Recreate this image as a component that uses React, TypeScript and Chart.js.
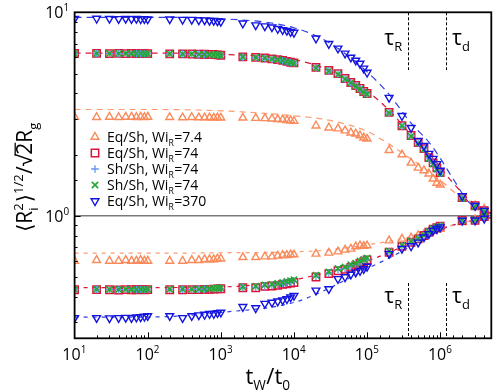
import React, { useEffect, useRef } from 'react';
import { Chart, registerables } from 'chart.js';
import { drawPoint } from 'chart.js/helpers';

Chart.register(...registerables);

// waiting times t_W/t_0 at which the data were sampled
const TW = [
  10, 20, 30, 40, 50, 60, 70, 80, 90, 100,
  200, 300, 400, 500, 600, 700, 800, 900, 1000,
  2000, 3000, 4000, 5000, 6000, 7000, 8000, 9000, 10000,
  2e4, 3e4, 4e4, 5e4, 6e4, 7e4, 8e4, 9e4, 1e5,
  2e5, 3e5, 4e5, 5e5, 6e5, 7e5, 8e5, 9e5, 1e6,
  2e6, 3e6, 4e6,
];

// Eq/Sh, Wi_R = 7.4
const EQ7_UP = [
  3.06, 3.05, 3.06, 3.05, 3.06, 3.06, 3.05, 3.06, 3.05, 3.06,
  3.05, 3.04, 3.05, 3.04, 3.04, 3.04, 3.03, 3.04, 3.03,
  3.03, 3.02, 3.01, 3.0, 2.98, 2.97, 2.95, 2.94, 2.92,
  2.77, 2.71, 2.68, 2.62, 2.56, 2.53, 2.48, 2.42, 2.39,
  2.1, 2.0, 1.82, 1.72, 1.67, 1.61, 1.52, 1.45, 1.42,
  1.21, 1.12, 1.08,
];
const EQ7_LO = [
  0.6, 0.605, 0.6, 0.6, 0.605, 0.6, 0.6, 0.605, 0.6, 0.6,
  0.6, 0.6, 0.605, 0.605, 0.61, 0.61, 0.61, 0.615, 0.615,
  0.625, 0.625, 0.63, 0.63, 0.635, 0.64, 0.64, 0.645, 0.645,
  0.65, 0.657, 0.667, 0.68, 0.688, 0.706, 0.714, 0.71, 0.714,
  0.755, 0.77, 0.78, 0.8, 0.81, 0.83, 0.84, 0.85, 0.86,
  0.93, 0.96, 0.98,
];

// Eq/Sh, Wi_R = 74
const EQ74_UP = [
  6.28, 6.28, 6.27, 6.28, 6.27, 6.28, 6.27, 6.27, 6.26, 6.27,
  6.25, 6.25, 6.24, 6.22, 6.22, 6.2, 6.2, 6.18, 6.15,
  6.04, 6.0, 5.96, 5.9, 5.85, 5.8, 5.74, 5.68, 5.64,
  5.36, 5.18, 5.0, 4.73, 4.52, 4.37, 4.22, 4.08, 3.99,
  3.22, 2.77, 2.48, 2.29, 2.14, 1.93, 1.82, 1.72, 1.63,
  1.23, 1.12, 1.06,
];
const EQ74_LO = [
  0.433, 0.434, 0.433, 0.432, 0.434, 0.433, 0.433, 0.434, 0.433, 0.434,
  0.433, 0.433, 0.434, 0.434, 0.435, 0.435, 0.436, 0.437, 0.438,
  0.443, 0.443, 0.45, 0.452, 0.455, 0.46, 0.463, 0.467, 0.47,
  0.5, 0.52, 0.537, 0.545, 0.558, 0.569, 0.584, 0.595, 0.607,
  0.662, 0.708, 0.741, 0.77, 0.8, 0.83, 0.86, 0.875, 0.89,
  0.948, 0.95, 0.99,
];

// Sh/Sh, Wi_R = 74 (plus)
const SH74P_UP = [
  6.27, 6.27, 6.26, 6.27, 6.26, 6.27, 6.26, 6.26, 6.25, 6.26,
  6.24, 6.24, 6.23, 6.21, 6.21, 6.19, 6.19, 6.17, 6.14,
  6.02, 5.98, 5.94, 5.88, 5.83, 5.78, 5.72, 5.66, 5.62,
  5.34, 5.16, 4.98, 4.71, 4.5, 4.35, 4.2, 4.06, 3.97,
  3.2, 2.75, 2.47, 2.28, 2.13, 1.92, 1.81, 1.71, 1.62,
  1.22, 1.12, 1.06,
];
const SH74P_LO = [
  0.434, 0.434, 0.434, 0.433, 0.434, 0.434, 0.433, 0.434, 0.434, 0.434,
  0.434, 0.434, 0.435, 0.435, 0.436, 0.437, 0.438, 0.439, 0.44,
  0.445, 0.446, 0.453, 0.456, 0.46, 0.465, 0.468, 0.472, 0.476,
  0.505, 0.525, 0.543, 0.552, 0.565, 0.576, 0.59, 0.602, 0.613,
  0.665, 0.71, 0.745, 0.772, 0.8, 0.83, 0.858, 0.875, 0.89,
  0.945, 0.955, 0.99,
];

// Sh/Sh, Wi_R = 74 (cross)
const SH74X_UP = [
  6.27, 6.28, 6.27, 6.27, 6.28, 6.27, 6.26, 6.27, 6.26, 6.26,
  6.25, 6.24, 6.24, 6.22, 6.21, 6.2, 6.19, 6.18, 6.15,
  6.03, 5.99, 5.95, 5.89, 5.84, 5.79, 5.73, 5.67, 5.62,
  5.33, 5.15, 4.96, 4.7, 4.5, 4.33, 4.19, 4.05, 3.96,
  3.2, 2.76, 2.46, 2.27, 2.12, 1.91, 1.8, 1.7, 1.62,
  1.22, 1.11, 1.05,
];
const SH74X_LO = [
  0.434, 0.435, 0.434, 0.434, 0.435, 0.434, 0.434, 0.435, 0.434, 0.435,
  0.435, 0.435, 0.436, 0.436, 0.437, 0.438, 0.44, 0.441, 0.442,
  0.447, 0.45, 0.457, 0.46, 0.465, 0.47, 0.475, 0.48, 0.485,
  0.51, 0.53, 0.55, 0.56, 0.575, 0.585, 0.6, 0.61, 0.62,
  0.67, 0.715, 0.75, 0.775, 0.805, 0.835, 0.862, 0.878, 0.892,
  0.95, 0.955, 0.99,
];

// Eq/Sh, Wi_R = 370
const EQ370_UP = [
  9.3, 9.32, 9.3, 9.28, 9.3, 9.28, 9.3, 9.27, 9.28, 9.25,
  9.25, 9.2, 9.2, 9.15, 9.15, 9.1, 9.1, 9.05, 9.0,
  8.83, 8.65, 8.55, 8.45, 8.3, 8.2, 8.12, 8.02, 7.95,
  7.45, 7.0, 6.65, 6.28, 6.0, 5.8, 5.6, 5.3, 5.06,
  3.81, 3.1, 2.71, 2.34, 2.21, 2.02, 1.91, 1.8, 1.67,
  1.25, 1.12, 1.06,
];
const EQ370_LO = [
  0.315, 0.315, 0.314, 0.315, 0.316, 0.315, 0.317, 0.318, 0.32, 0.322,
  0.322, 0.315, 0.322, 0.325, 0.327, 0.33, 0.33, 0.333, 0.335,
  0.357, 0.352, 0.37, 0.375, 0.38, 0.385, 0.39, 0.398, 0.405,
  0.43, 0.437, 0.49, 0.5, 0.515, 0.527, 0.537, 0.548, 0.563,
  0.652, 0.69, 0.71, 0.74, 0.785, 0.815, 0.846, 0.863, 0.88,
  0.948, 0.95, 0.97,
];

// fitted (dashed) curves
const FIT_TW = [10, 100, 1000, 1e4, 3e4, 1e5, 2e5, 4e5, 7e5, 1e6, 1.5e6, 2.5e6, 5e6];
const FIT_EQ370_UP = [9.45, 9.45, 9.3, 8.4, 7.1, 5.1, 3.95, 2.85, 2.3, 1.92, 1.52, 1.16, 1.02];
const FIT_EQ74_UP = [6.3, 6.3, 6.22, 5.85, 5.2, 4.1, 3.3, 2.5, 2.0, 1.72, 1.45, 1.2, 1.03];
const FIT_EQ7_UP = [3.33, 3.33, 3.28, 3.1, 2.95, 2.6, 2.25, 1.9, 1.65, 1.5, 1.32, 1.18, 1.03];
const FIT_EQ7_LO = [0.655, 0.655, 0.658, 0.665, 0.68, 0.72, 0.75, 0.79, 0.83, 0.86, 0.9, 0.94, 0.98];
const FIT_EQ74_LO = [0.444, 0.444, 0.447, 0.485, 0.53, 0.6, 0.66, 0.74, 0.81, 0.86, 0.9, 0.94, 0.98];
const FIT_EQ370_LO = [0.318, 0.318, 0.335, 0.375, 0.44, 0.55, 0.62, 0.71, 0.8, 0.85, 0.9, 0.94, 0.98];

// axes
const X_MIN = 10;
const X_MAX = 5e6;
const Y_MIN = 0.25;
const Y_MAX = 10;
const X_TICK_EXP = ['1', '2', '3', '4', '5', '6'];
const Y_TICK_EXP = ['0', '1'];
const REF_LEVEL = 1;
const TAU_R = 3.6e5;
const TAU_D = 1.2e6;

// legend texts: prefix + subscript + suffix
const LEG_PREFIX = ['Eq/Sh, Wi', 'Eq/Sh, Wi', 'Sh/Sh, Wi', 'Sh/Sh, Wi', 'Eq/Sh, Wi'];
const LEG_SUB = ['R', 'R', 'R', 'R', 'R'];
const LEG_SUFFIX = ['=7.4', '=74', '=74', '=74', '=370'];

const FONT = '"Open Sans", "DejaVu Sans", sans-serif';

const C_ORANGE = '#FA8A5A';
const C_RED = '#DC143C';
const C_PLUS = '#6495ED';
const C_CROSS = '#22AA33';
const C_BLUE = '#1414E0';

type Seg = { t: string; k?: 'n' | 'sub' | 'sup' | 'subsup'; t2?: string; over?: boolean };

function segWidth(ctx: CanvasRenderingContext2D, s: Seg, size: number) {
  const small = size * 0.62;
  if (!s.k || s.k === 'n') {
    ctx.font = `${size}px ${FONT}`;
    return ctx.measureText(s.t).width;
  }
  ctx.font = `${small}px ${FONT}`;
  if (s.k === 'subsup') {
    return Math.max(ctx.measureText(s.t).width, ctx.measureText(s.t2 || '').width) + 1;
  }
  return ctx.measureText(s.t).width + 0.5;
}

function drawRich(
  ctx: CanvasRenderingContext2D,
  segs: Seg[],
  x: number,
  y: number,
  size: number,
  align: 'left' | 'center' | 'right',
) {
  const widths = segs.map((s) => segWidth(ctx, s, size));
  const total = widths.reduce((a, b) => a + b, 0);
  let cx = align === 'left' ? x : align === 'center' ? x - total / 2 : x - total;
  const small = size * 0.62;
  ctx.textAlign = 'left';
  ctx.textBaseline = 'alphabetic';
  segs.forEach((s, i) => {
    if (!s.k || s.k === 'n') {
      ctx.font = `${size}px ${FONT}`;
      ctx.fillText(s.t, cx, y);
      if (s.over) {
        ctx.save();
        ctx.lineWidth = size * 0.06;
        ctx.strokeStyle = ctx.fillStyle as string;
        ctx.beginPath();
        ctx.moveTo(cx - 1, y - size * 0.8);
        ctx.lineTo(cx + widths[i], y - size * 0.8);
        ctx.stroke();
        ctx.restore();
      }
    } else {
      ctx.font = `${small}px ${FONT}`;
      if (s.k === 'sub') ctx.fillText(s.t, cx, y + size * 0.28);
      else if (s.k === 'sup') ctx.fillText(s.t, cx, y - size * 0.45);
      else {
        ctx.fillText(s.t, cx, y + size * 0.28);
        ctx.fillText(s.t2 || '', cx, y - size * 0.45);
      }
    }
    cx += widths[i];
  });
}

const pts = (xs: number[], ys: number[]) => xs.map((x, i) => ({ x, y: ys[i] }));

const SERIES = [
  { up: EQ7_UP, lo: EQ7_LO, color: C_ORANGE, style: 'triangle', radius: 4.5, rotation: 0, bw: 1.4 },
  { up: EQ74_UP, lo: EQ74_LO, color: C_RED, style: 'rect', radius: 5.2, rotation: 0, bw: 1.5 },
  { up: SH74P_UP, lo: SH74P_LO, color: C_PLUS, style: 'cross', radius: 3.8, rotation: 0, bw: 1.3 },
  { up: SH74X_UP, lo: SH74X_LO, color: C_CROSS, style: 'crossRot', radius: 4.5, rotation: 0, bw: 1.6 },
  { up: EQ370_UP, lo: EQ370_LO, color: C_BLUE, style: 'triangle', radius: 4.5, rotation: 180, bw: 1.4 },
];

const FITS = [
  { ys: FIT_EQ370_UP, color: '#2F3FE0', dash: [7, 5] },
  { ys: FIT_EQ74_UP, color: C_RED, dash: [6, 5] },
  { ys: FIT_EQ7_UP, color: '#FF9A70', dash: [6, 5] },
  { ys: FIT_EQ7_LO, color: '#FF9A70', dash: [4, 5] },
  { ys: FIT_EQ74_LO, color: C_RED, dash: [4, 5] },
  { ys: FIT_EQ370_LO, color: '#2F3FE0', dash: [4, 5] },
];

const decoPlugin = {
  id: 'deco',
  beforeDatasetsDraw(chart: any) {
    const { ctx, chartArea: a, scales } = chart;
    const xs = scales.x;
    const ys = scales.y;
    ctx.save();
    // reference level
    const py = ys.getPixelForValue(REF_LEVEL);
    ctx.strokeStyle = '#7a7a7a';
    ctx.lineWidth = 1.5;
    ctx.beginPath();
    ctx.moveTo(a.left, py);
    ctx.lineTo(a.right, py);
    ctx.stroke();
    // tau lines
    ctx.strokeStyle = '#000';
    ctx.lineWidth = 1;
    ctx.setLineDash([3, 2]);
    [TAU_R, TAU_D].forEach((t) => {
      const px = Math.round(xs.getPixelForValue(t)) + 0.5;
      ctx.beginPath();
      ctx.moveTo(px, a.top);
      ctx.lineTo(px, 70);
      ctx.moveTo(px, 283);
      ctx.lineTo(px, a.bottom);
      ctx.stroke();
    });
    ctx.restore();
  },
  afterDatasetsDraw(chart: any) {
    const { ctx, chartArea: a, scales } = chart;
    const xs = scales.x;
    const ys = scales.y;
    ctx.save();
    // frame
    ctx.strokeStyle = '#000';
    ctx.lineWidth = 1.8;
    ctx.strokeRect(a.left, a.top, a.right - a.left, a.bottom - a.top);
    // inward ticks
    ctx.lineWidth = 1;
    const isMajor = (v: number) => Math.abs(Math.log10(v) - Math.round(Math.log10(v))) < 1e-6;
    xs.ticks.forEach((t: any) => {
      const px = xs.getPixelForValue(t.value);
      if (px <= a.left + 1 || px >= a.right - 1) return;
      const len = isMajor(t.value) ? 6 : 3;
      ctx.beginPath();
      ctx.moveTo(Math.round(px) + 0.5, a.bottom);
      ctx.lineTo(Math.round(px) + 0.5, a.bottom - len);
      ctx.stroke();
    });
    ys.ticks.forEach((t: any) => {
      const py = ys.getPixelForValue(t.value);
      if (py <= a.top + 1 || py >= a.bottom - 1) return;
      const len = isMajor(t.value) ? 6 : 3;
      ctx.beginPath();
      ctx.moveTo(a.left, Math.round(py) + 0.5);
      ctx.lineTo(a.left + len, Math.round(py) + 0.5);
      ctx.stroke();
    });
    // tick labels
    ctx.fillStyle = '#000';
    X_TICK_EXP.forEach((e) => {
      const px = xs.getPixelForValue(Math.pow(10, Number(e)));
      drawRich(ctx, [{ t: '10' }, { t: e, k: 'sup' }], px, a.bottom + 22, 16, 'center');
    });
    Y_TICK_EXP.forEach((e) => {
      const py = ys.getPixelForValue(Math.pow(10, Number(e)));
      drawRich(ctx, [{ t: '10' }, { t: e, k: 'sup' }], a.left - 5, py + 6, 16, 'right');
    });
    // tau labels
    const tr = xs.getPixelForValue(TAU_R);
    const td = xs.getPixelForValue(TAU_D);
    [45, 303].forEach((by) => {
      drawRich(ctx, [{ t: 'τ' }, { t: 'R', k: 'sub' }], tr - 5, by, 21, 'right');
      drawRich(ctx, [{ t: 'τ' }, { t: 'd', k: 'sub' }], td + 6, by, 21, 'left');
    });
    // axis titles
    drawRich(ctx, [{ t: 't' }, { t: 'W', k: 'sub' }, { t: '/t' }, { t: '0', k: 'sub' }], 268, 384, 22, 'center');
    ctx.save();
    ctx.translate(32, 177);
    ctx.rotate(-Math.PI / 2);
    drawRich(
      ctx,
      [
        { t: '⟨R' },
        { t: 'i', k: 'subsup', t2: '2' },
        { t: '⟩' },
        { t: '1/2', k: 'sup' },
        { t: '/√' },
        { t: '2', over: true },
        { t: 'R' },
        { t: 'g', k: 'sub' },
      ],
      0,
      0,
      21,
      'center',
    );
    ctx.restore();
    // legend
    SERIES.forEach((s, i) => {
      const cy = 137 + i * 16;
      ctx.save();
      ctx.strokeStyle = s.color;
      ctx.fillStyle = 'rgba(0,0,0,0)';
      ctx.lineWidth = s.bw;
      drawPoint(ctx, { pointStyle: s.style, radius: s.radius, rotation: s.rotation, borderWidth: s.bw } as any, 95, cy);
      ctx.restore();
      ctx.fillStyle = '#000';
      drawRich(
        ctx,
        [{ t: LEG_PREFIX[i] }, { t: LEG_SUB[i], k: 'sub' }, { t: LEG_SUFFIX[i] }],
        107,
        cy + 5,
        14,
        'left',
      );
    });
    ctx.restore();
  },
};

export default function App() {
  const ref = useRef<HTMLCanvasElement | null>(null);
  useEffect(() => {
    if (!ref.current) return;
    const markerSets = SERIES.map((s) => ({
      type: 'scatter' as const,
      data: [...pts(TW, s.up), ...pts(TW, s.lo)],
      pointStyle: s.style,
      pointRadius: s.radius,
      pointRotation: s.rotation,
      pointBorderWidth: s.bw,
      borderColor: s.color,
      pointBorderColor: s.color,
      pointBackgroundColor: 'rgba(0,0,0,0)',
      backgroundColor: 'rgba(0,0,0,0)',
      showLine: false,
    }));
    // blue on top: lower index drawn last
    const orderedMarkers = [...markerSets].reverse();
    const fitSets = FITS.map((f) => ({
      type: 'line' as const,
      data: pts(FIT_TW, f.ys),
      borderColor: f.color,
      borderWidth: 1.2,
      borderDash: f.dash,
      pointRadius: 0,
      fill: false,
      cubicInterpolationMode: 'monotone' as const,
    }));
    const chart = new Chart(ref.current, {
      type: 'scatter',
      data: { datasets: [...orderedMarkers, ...fitSets] as any },
      options: {
        animation: false,
        responsive: false,
        devicePixelRatio: 1,
        layout: { padding: { top: 12.3, right: 4.7, left: 0, bottom: 0 } },
        plugins: { legend: { display: false }, tooltip: { enabled: false } },
        scales: {
          x: {
            type: 'logarithmic',
            min: X_MIN,
            max: X_MAX,
            grid: { display: false },
            border: { display: false },
            ticks: { display: false },
            afterFit: (s: any) => {
              s.height = 53.7;
            },
          },
          y: {
            type: 'logarithmic',
            min: Y_MIN,
            max: Y_MAX,
            grid: { display: false },
            border: { display: false },
            ticks: { display: false },
            afterFit: (s: any) => {
              s.width = 74.6;
            },
          },
        },
      },
      plugins: [decoPlugin],
    });
    return () => chart.destroy();
  }, []);
  return (
    <div style={{ position: 'fixed', left: 0, top: 0, width: 498, height: 392, background: '#fff' }}>
      <canvas ref={ref} width={498} height={392} style={{ display: 'block', width: 498, height: 392 }} />
    </div>
  );
}
